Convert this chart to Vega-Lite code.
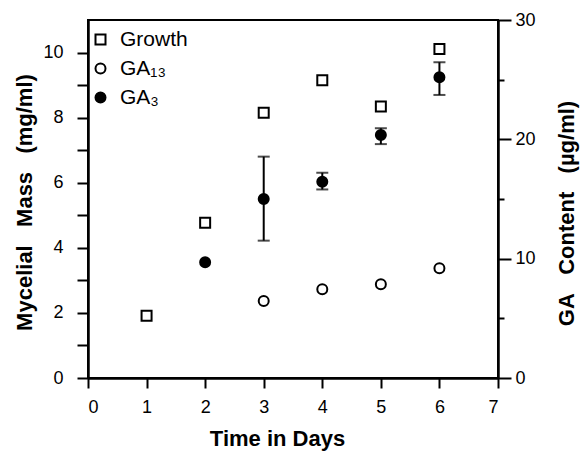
{
  "$schema": "https://vega.github.io/schema/vega-lite/v6.json",
  "width": 410,
  "height": 358,
  "autosize": {"type": "none"},
  "padding": {"left": 88, "top": 20, "right": 85, "bottom": 74},
  "background": "white",
  "config": {
    "font": "Liberation Sans",
    "view": {"stroke": "black", "strokeWidth": 2},
    "axis": {
      "grid": false,
      "domainColor": "black",
      "domainWidth": 2.5,
      "tickColor": "black",
      "tickWidth": 2,
      "labelColor": "black",
      "titleColor": "black",
      "labelFont": "Liberation Sans",
      "titleFont": "Liberation Sans",
      "labelFontSize": 18,
      "titleFontSize": 22,
      "titleFontWeight": "bold"
    },
    "legend": {
      "orient": "none",
      "legendX": 2,
      "legendY": 9,
      "padding": 0,
      "labelFont": "Liberation Sans",
      "labelFontSize": 21,
      "labelColor": "black",
      "symbolStrokeWidth": 2,
      "symbolSize": 100,
      "rowPadding": 7,
      "labelOffset": 9
    }
  },
  "datasets": {
    "growth": [
      {"day": 1, "series": "Growth", "value": 1.91},
      {"day": 2, "series": "Growth", "value": 4.77},
      {"day": 3, "series": "Growth", "value": 8.15},
      {"day": 4, "series": "Growth", "value": 9.15},
      {"day": 5, "series": "Growth", "value": 8.34},
      {"day": 6, "series": "Growth", "value": 10.11}
    ],
    "ga": [
      {"day": 3, "series": "GA₁₃", "value": 6.45},
      {"day": 4, "series": "GA₁₃", "value": 7.43},
      {"day": 5, "series": "GA₁₃", "value": 7.85},
      {"day": 6, "series": "GA₁₃", "value": 9.19},
      {"day": 2, "series": "GA₃", "value": 9.7},
      {"day": 3, "series": "GA₃", "value": 15.0, "low": 11.51, "high": 18.55},
      {"day": 4, "series": "GA₃", "value": 16.45, "low": 15.8, "high": 17.2},
      {"day": 5, "series": "GA₃", "value": 20.37, "low": 19.6, "high": 20.93},
      {"day": 6, "series": "GA₃", "value": 25.2, "low": 23.72, "high": 26.46}
    ]
  },
  "layer": [
    {
      "data": {"name": "growth"},
      "mark": {"type": "point", "filled": true, "strokeWidth": 2, "size": 100, "opacity": 1},
      "encoding": {
        "x": {
          "field": "day", "type": "quantitative",
          "scale": {"domain": [0, 7], "nice": false},
          "axis": {
            "title": "Time in Days",
            "titleFontSize": 22,
            "values": [0, 1, 2, 3, 4, 5, 6, 7],
            "format": "d",
            "tickSize": 10,
            "labelPadding": 10,
            "titleX": 189,
            "titleY": 67,
            "titleBaseline": "alphabetic",
            "titleAlign": "center"
          }
        },
        "y": {
          "field": "value", "type": "quantitative",
          "scale": {"domain": [0, 11], "nice": false},
          "axis": {
            "orient": "left",
            "title": "Mycelial\u00a0\u00a0\u00a0Mass\u00a0\u00a0\u00a0(mg/ml)",
            "values": [0, 1, 2, 3, 4, 5, 6, 7, 8, 9, 10],
            "format": "d",
            "labelExpr": "datum.value % 2 === 0 ? datum.label : ''",
            "tickSize": 11,
            "labelPadding": 14,
            "titleAngle": 270,
            "titleX": -64,
            "titleY": 182,
            "titleBaseline": "middle",
            "titleAlign": "center"
          }
        },
        "shape": {
          "field": "series", "type": "nominal",
          "scale": {"domain": ["Growth", "GA₁₃", "GA₃"], "range": ["square", "circle", "circle"]},
          "legend": {"title": null}
        },
        "fill": {
          "field": "series", "type": "nominal",
          "scale": {"domain": ["Growth", "GA₁₃", "GA₃"], "range": ["white", "white", "black"]},
          "legend": {"title": null}
        },
        "stroke": {
          "field": "series", "type": "nominal",
          "scale": {"domain": ["Growth", "GA₁₃", "GA₃"], "range": ["black", "black", "black"]},
          "legend": {"title": null}
        }
      }
    },
    {
      "data": {"name": "ga"},
      "layer": [
        {
          "mark": {
            "type": "errorbar",
            "ticks": {"size": 12, "thickness": 2, "color": "black"},
            "rule": {"strokeWidth": 2, "color": "black"}
          },
          "encoding": {
            "x": {"field": "day", "type": "quantitative"},
            "y": {
              "field": "low", "type": "quantitative",
              "scale": {"domain": [0, 30], "nice": false},
              "axis": {
                "orient": "right",
                "title": "GA\u00a0\u00a0\u00a0Content\u00a0\u00a0\u00a0(µg/ml)",
                "values": [0, 5, 10, 15, 20, 25, 30],
                "format": "d",
                "labelExpr": "datum.value % 10 === 0 ? datum.label : ''",
                "tickSize": {"expr": "datum.value % 10 === 0 ? 13 : 6"},
                "labelPadding": 4,
                "titleAngle": 270,
                "titleX": 68,
                "titleY": 193,
                "titleBaseline": "middle",
                "titleAlign": "center"
              }
            },
            "y2": {"field": "high"}
          }
        },
        {
          "mark": {"type": "point", "filled": true, "strokeWidth": 2, "size": 100, "opacity": 1},
          "encoding": {
            "x": {"field": "day", "type": "quantitative"},
            "y": {
              "field": "value", "type": "quantitative",
              "scale": {"domain": [0, 30], "nice": false},
              "axis": {
                "orient": "right",
                "title": "GA\u00a0\u00a0\u00a0Content\u00a0\u00a0\u00a0(µg/ml)",
                "values": [0, 5, 10, 15, 20, 25, 30],
                "format": "d",
                "labelExpr": "datum.value % 10 === 0 ? datum.label : ''",
                "tickSize": {"expr": "datum.value % 10 === 0 ? 13 : 6"},
                "labelPadding": 4,
                "titleAngle": 270,
                "titleX": 68,
                "titleY": 193,
                "titleBaseline": "middle",
                "titleAlign": "center"
              }
            },
            "shape": {"field": "series", "type": "nominal", "legend": {"title": null}},
            "fill": {"field": "series", "type": "nominal", "legend": {"title": null}},
            "stroke": {"field": "series", "type": "nominal", "legend": {"title": null}}
          }
        }
      ]
    }
  ],
  "resolve": {"scale": {"y": "independent"}}
}
